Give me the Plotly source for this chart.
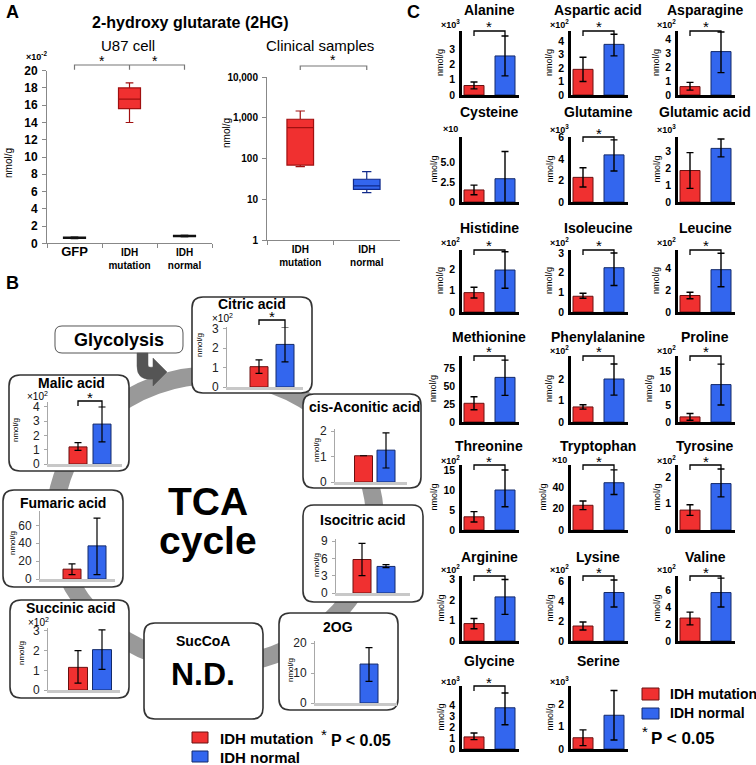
import plotly.graph_objects as go

# ---------------------------------------------------------------- data
groups = ["IDH mutation", "IDH normal"]

# Panel A : U87 cells (x10^-2 nmol/g), box statistics
u87_groups = ["GFP", "IDH mutation", "IDH normal"]
u87_ticktext = ["<span style='font-size:13px'>GFP</span>", "IDH<br>mutation", "IDH<br>normal"]
u87_q1 = [0.58, 15.6, 0.78]
u87_median = [0.65, 16.7, 0.85]
u87_q3 = [0.72, 18.0, 0.92]
u87_low = [0.55, 14.0, 0.75]
u87_high = [0.75, 18.6, 0.95]
u87_ticks = [0, 2, 4, 6, 8, 10, 12, 14, 16, 18, 20]

# Panel A : clinical samples (nmol/g, log scale)
clin_ticktext = ["IDH<br>mutation", "IDH<br>normal"]
clin_q1 = [69, 17.5]
clin_median = [570, 21.4]
clin_q3 = [920, 31]
clin_low = [63, 14.5]
clin_high = [1465, 47.5]
clin_tickvals = [1, 10, 100, 1000, 10000]
clin_ticklabels = ["1", "10", "100", "1,000", "10,000"]

# Panel B : TCA cycle metabolites
tca_names = ["Citric acid", "cis-Aconitic acid", "Isocitric acid", "2OG",
             "Succinic acid", "Fumaric acid", "Malic acid"]
tca_mut = [1.05, 1.03, 5.8, None, 1.15, 11, 1.2]
tca_mut_lo = [0.7, 1.03, 3.0, None, 0.35, 5, 0.95]
tca_mut_hi = [1.4, 1.03, 8.6, None, 2.0, 17, 1.5]
tca_norm = [2.2, 1.25, 4.6, 13, 2.05, 37, 2.8]
tca_norm_lo = [1.3, 0.55, 4.4, 7.2, 1.05, 5, 1.55]
tca_norm_hi = [3.1, 1.93, 4.9, 18.5, 3.05, 68, 4.0]
tca_sig = [True, False, False, False, False, False, True]
tca_mult = ["×10<sup>2</sup>", "", "", "", "×10<sup>2</sup>", "", "×10<sup>2</sup>"]
tca_ticks = [[0, 1, 2, 3], [0, 1, 2], [0, 3, 6, 9], [0, 10, 20],
             [0, 1, 2, 3], [0, 20, 40, 60], [0, 1, 2, 3, 4]]

# Panel C : amino acids
aa_names = ["Alanine", "Aspartic acid", "Asparagine",
            "Cysteine", "Glutamine", "Glutamic acid",
            "Histidine", "Isoleucine", "Leucine",
            "Methionine", "Phenylalanine", "Proline",
            "Threonine", "Tryptophan", "Tyrosine",
            "Arginine", "Lysine", "Valine",
            "Glycine", "Serine"]
aa_mut = [0.62, 1.9, 0.6, 1.5, 2.3, 1.85, 0.9, 0.8, 1.5, 26, 0.7, 1.5,
          3.3, 23, 0.75, 0.85, 1.5, 2.7, 1.1, 0.5]
aa_mut_lo = [0.4, 1.0, 0.35, 0.9, 1.4, 0.8, 0.65, 0.7, 1.2, 17, 0.6, 0.5,
             2.0, 19, 0.55, 0.6, 1.1, 1.9, 0.85, 0.15]
aa_mut_hi = [0.85, 2.8, 0.9, 2.1, 3.2, 2.9, 1.15, 0.95, 1.8, 35, 0.8, 2.5,
             4.6, 27, 0.95, 1.1, 1.9, 3.4, 1.45, 0.85]
aa_norm = [2.55, 3.75, 3.1, 2.9, 4.4, 3.15, 1.95, 2.25, 3.85, 62, 2.0, 11,
           10, 44, 1.75, 2.15, 4.85, 5.7, 3.75, 1.5]
aa_norm_lo = [1.25, 2.9, 1.6, -0.5, 2.9, 2.65, 1.1, 1.35, 2.3, 37, 1.25, 5,
              5.8, 33, 1.25, 1.3, 3.4, 4.0, 2.2, 0.4]
aa_norm_hi = [3.85, 4.5, 4.5, 6.3, 5.8, 3.7, 2.8, 3.0, 5.35, 86, 2.7, 17,
              15, 56, 2.3, 3.0, 6.1, 7.4, 5.1, 2.6]
aa_sig = [True, True, True, False, True, False, True, True, True, True, True, True,
          True, True, True, True, True, True, True, False]
aa_mult = ["×10<sup>3</sup>", "×10<sup>2</sup>", "×10<sup>2</sup>",
           "×10", "×10<sup>3</sup>", "×10<sup>3</sup>",
           "×10<sup>2</sup>", "×10<sup>2</sup>", "×10<sup>2</sup>",
           "", "×10<sup>2</sup>", "×10<sup>2</sup>",
           "×10<sup>2</sup>", "×10", "×10<sup>2</sup>",
           "×10<sup>2</sup>", "×10<sup>2</sup>", "×10<sup>2</sup>",
           "×10<sup>3</sup>", "×10<sup>3</sup>"]
aa_ticks = [[0, 1, 2, 3], [0, 1, 2, 3, 4], [0, 1, 2, 3, 4],
            [0, 2.5, 5.0], [0, 2, 4, 6], [0, 1, 2, 3],
            [0, 1, 2], [0, 1, 2, 3], [0, 2, 4],
            [0, 25, 50, 75], [0, 1, 2], [0, 5, 10, 15],
            [0, 5, 10, 15], [0, 20, 40], [0, 1, 2],
            [0, 1, 2, 3], [0, 2, 4, 6], [0, 2, 4, 6],
            [0, 1, 2, 3, 4], [0, 1, 2]]
aa_ticktext = [None, None, None, ["0", "2.5", "5.0"]] + [None] * 16

# ---------------------------------------------------------------- styling / layout
W, H = 756, 765
FONT = "Liberation Sans, Arial, sans-serif"
RED = "#f03030"
BLUE = "#3366ee"
RED_EDGE = "#6a1010"
BLUE_EDGE = "#142a6a"

fig = go.Figure()
lay = dict(width=W, height=H, margin=dict(l=0, r=0, t=0, b=0, pad=0, autoexpand=False),
           paper_bgcolor="white", plot_bgcolor="rgba(0,0,0,0)",
           showlegend=False, font=dict(family=FONT, color="black"))
shapes = []
annos = []
naxes = [0]


def X(x):
    return x / W


def Y(y):
    return 1 - y / H


def P(x, y):
    return f"{X(x):.5f},{Y(y):.5f}"


def text(x, y, s, size, bold=False, color="black", xanchor="center", yanchor="middle", angle=0):
    if bold:
        s = "<b>" + s + "</b>"
    annos.append(dict(x=X(x), y=Y(y), xref="paper", yref="paper", text=s, showarrow=False,
                      font=dict(size=size, family=FONT, color=color),
                      xanchor=xanchor, yanchor=yanchor, textangle=angle, borderpad=0))


def new_axes(left, right, top, bottom, xaxis, yaxis):
    naxes[0] += 1
    n = naxes[0]
    s = "" if n == 1 else str(n)
    xaxis.update(domain=[X(left), X(right)], anchor="y" + s, automargin=False)
    yaxis.update(domain=[Y(bottom), Y(top)], anchor="x" + s, automargin=False)
    lay["xaxis" + s] = xaxis
    lay["yaxis" + s] = yaxis
    return "x" + s, "y" + s


def hidden_axes(left, right, top, bottom, xaxis, yaxis):
    # invisible axes with the same scale as a chart, extended upward for brackets
    base = dict(visible=False, showgrid=False, zeroline=False, fixedrange=True)
    xaxis.update(base)
    yaxis.update(base)
    return new_axes(left, right, top, bottom, xaxis, yaxis)


def rrect(x0, y0, x1, y1, r):
    return ("M" + P(x0 + r, y0) + " L" + P(x1 - r, y0) + " Q" + P(x1, y0) + " " + P(x1, y0 + r) +
            " L" + P(x1, y1 - r) + " Q" + P(x1, y1) + " " + P(x1 - r, y1) +
            " L" + P(x0 + r, y1) + " Q" + P(x0, y1) + " " + P(x0, y1 - r) +
            " L" + P(x0, y0 + r) + " Q" + P(x0, y0) + " " + P(x0 + r, y0) + " Z")


def bar_chart(vals, lo, hi, ticks, ticktext, sig, g, style):
    left, right, top, y0 = g["left"], g["right"], g["top"], g["y0"]
    c1, c2, bw, ymax = g["c1"], g["c2"], g["bw"], g["ymax"]
    unit = c2 - c1
    xr = [(left - c1) / unit, (right - c1) / unit]
    if style == "C":
        yax = dict(range=[0, ymax], showline=True, linecolor="black", linewidth=2.5, ticks="",
                   tickvals=ticks, ticktext=ticktext,
                   tickfont=dict(size=10.5, family=FONT, color="black", weight="bold"),
                   showgrid=False, zeroline=False, ticklabelstandoff=2)
        xax = dict(type="category", categoryorder="array", categoryarray=groups, range=xr,
                   showline=True, linecolor="black", linewidth=2.5, showticklabels=False,
                   ticks="", showgrid=False, zeroline=False)
        eth = 1.4
    else:
        yax = dict(range=[0, ymax], showline=True, linecolor="#a8a8a8", linewidth=1,
                   ticks="outside", ticklen=3, tickcolor="#a8a8a8",
                   tickvals=ticks, ticktext=ticktext,
                   tickfont=dict(size=12, family=FONT, color="#222"),
                   showgrid=False, zeroline=False, ticklabelstandoff=2)
        xax = dict(type="category", categoryorder="array", categoryarray=groups, range=xr,
                   showline=True, linecolor="#c8c8c8", linewidth=2.5, showticklabels=False,
                   ticks="", showgrid=False, zeroline=False)
        eth = 1.2
    xr_, yr_ = new_axes(left, right, top, y0, xax, yax)
    ea = [None if (v is None or h is None) else h - v for v, h in zip(vals, hi)]
    em = [None if (v is None or l is None) else v - l for v, l in zip(vals, lo)]
    fig.add_trace(go.Bar(x=groups, y=list(vals), width=bw / unit, xaxis=xr_, yaxis=yr_,
                         marker=dict(color=[RED, BLUE], line=dict(color=[RED_EDGE, BLUE_EDGE], width=1)),
                         error_y=dict(type="data", symmetric=False, array=ea, arrayminus=em,
                                      color="black", thickness=eth, width=3.5),
                         cliponaxis=False, hoverinfo="skip"))
    if sig:
        upx = (y0 - top) / ymax
        ext_top = top - 20
        hx, hy = hidden_axes(left, right, ext_top, y0,
                             dict(type="category", categoryorder="array", categoryarray=groups, range=xr),
                             dict(range=[0, (y0 - ext_top) / upx]))
        by = (y0 - g["by"]) / upx
        fig.add_trace(go.Scatter(x=[groups[0], groups[0], groups[1], groups[1]],
                                 y=[by - 5 / upx, by, by, hi[1]], mode="lines",
                                 line=dict(color="black", width=1.3), xaxis=hx, yaxis=hy,
                                 hoverinfo="skip"))
        text((c1 + c2) / 2, g["by"] - 4, "*", 15)


# ---------------------------------------------------------------- Panel A
text(12, 12, "A", 18, bold=True)
text(190, 22, "2-hydroxy glutarate (2HG)", 16, bold=True)
text(128, 45, "U87 cell", 15)
text(320, 45, "Clinical samples", 15)

U87_TOP, U87_BOT = 70.7, 243.3
xa, ya = new_axes(47, 212, U87_TOP, U87_BOT,
                  dict(type="category", categoryorder="array", categoryarray=u87_groups,
                       range=[-0.5, 2.5], showline=True, linecolor="#888", linewidth=1,
                       ticks="outside", tickson="boundaries", ticklen=4, tickcolor="#888",
                       tickvals=u87_groups, ticktext=u87_ticktext,
                       tickfont=dict(size=10, family=FONT, weight="bold"), showgrid=False),
                  dict(range=[0, 20], tickvals=u87_ticks, showline=True, linecolor="#888",
                       linewidth=1, ticks="outside", ticklen=4, tickcolor="#888",
                       tickfont=dict(size=12, family=FONT, weight="bold"),
                       showgrid=False, zeroline=False, ticklabelstandoff=2))
u87_fill = ["#222222", RED, BLUE]
u87_line = ["#111111", "#a01010", "#111111"]
for i, gname in enumerate(u87_groups):
    fig.add_trace(go.Box(x=[gname], q1=[u87_q1[i]], median=[u87_median[i]], q3=[u87_q3[i]],
                         lowerfence=[u87_low[i]], upperfence=[u87_high[i]], width=0.4,
                         whiskerwidth=0.35, fillcolor=u87_fill[i],
                         line=dict(color=u87_line[i], width=1.2), boxpoints=False,
                         xaxis=xa, yaxis=ya, hoverinfo="skip"))
ha, hb = hidden_axes(47, 212, 50, U87_BOT,
                     dict(type="category", categoryorder="array", categoryarray=u87_groups,
                          range=[-0.5, 2.5]),
                     dict(range=[0, 20 * (U87_BOT - 50) / (U87_BOT - U87_TOP)]))
fig.add_trace(go.Scatter(x=[u87_groups[0], u87_groups[0], u87_groups[1], u87_groups[1],
                            u87_groups[1], u87_groups[2], u87_groups[2]],
                         y=[20.1, 20.66, 20.66, 20.1, 20.66, 20.66, 20.1], mode="lines",
                         line=dict(color="#777", width=1.2), xaxis=ha, yaxis=hb,
                         hoverinfo="skip"))
text(102, 61, "*", 14)
text(155, 61, "*", 14)
text(36, 56, "×10<sup>-2</sup>", 9, bold=True)
text(8, 163, "nmol/g", 10, angle=-90)

CL_TOP, CL_BOT = 77, 240
xb, yb = new_axes(267, 400, CL_TOP, CL_BOT,
                  dict(type="category", categoryorder="array", categoryarray=groups,
                       range=[-0.5, 1.5], showline=True, linecolor="#888", linewidth=1,
                       ticks="outside", tickson="boundaries", ticklen=4, tickcolor="#888",
                       tickvals=groups, ticktext=clin_ticktext,
                       tickfont=dict(size=10, family=FONT, weight="bold"), showgrid=False),
                  dict(type="log", range=[0, 4], tickvals=clin_tickvals, ticktext=clin_ticklabels,
                       showline=True, linecolor="#888", linewidth=1, ticks="outside", ticklen=4,
                       tickcolor="#888", tickfont=dict(size=10, family=FONT, weight="bold"),
                       showgrid=False, zeroline=False, ticklabelstandoff=2))
clin_fill = [RED, BLUE]
clin_line = ["#a01010", "#102a8a"]
for i, gname in enumerate(groups):
    fig.add_trace(go.Box(x=[gname], q1=[clin_q1[i]], median=[clin_median[i]], q3=[clin_q3[i]],
                         lowerfence=[clin_low[i]], upperfence=[clin_high[i]], width=0.4,
                         whiskerwidth=0.35, fillcolor=clin_fill[i],
                         line=dict(color=clin_line[i], width=1.2), boxpoints=False,
                         xaxis=xb, yaxis=yb, hoverinfo="skip"))
hc, hd = hidden_axes(267, 400, 50, CL_BOT,
                     dict(type="category", categoryorder="array", categoryarray=groups,
                          range=[-0.5, 1.5]),
                     dict(type="log", range=[0, 4 * (CL_BOT - 50) / (CL_BOT - CL_TOP)]))
fig.add_trace(go.Scatter(x=[groups[0], groups[0], groups[1], groups[1]],
                         y=[10 ** 4.17, 10 ** 4.27, 10 ** 4.27, 10 ** 4.17], mode="lines",
                         line=dict(color="#777", width=1.2), xaxis=hc, yaxis=hd,
                         hoverinfo="skip"))
text(333, 60, "*", 14)
text(226, 133, "nmol/g", 10, angle=-90)

# ---------------------------------------------------------------- Panel B
text(12, 283, "B", 18, bold=True)
shapes.append(dict(type="circle", xref="paper", yref="paper", x0=X(55), x1=X(375),
                   y0=Y(665), y1=Y(375), line=dict(color="#999999", width=18), layer="below"))
tca_geom = [
    dict(left=227, right=303, top=327, y0=387, c1=259, c2=285, bw=18, ymax=3.1, by=320,
         title=(252, 304), mult=(222, 318), nmol=(200, 345), box=(192, 297, 312, 393)),
    dict(left=335, right=407, top=429, y0=482, c1=363.5, c2=386, bw=18, ymax=2.08, by=0,
         title=(364, 407), mult=None, nmol=(316, 450), box=(303, 394, 421, 488)),
    dict(left=336, right=410, top=539, y0=593, c1=362, c2=386, bw=18, ymax=9.35, by=0,
         title=(363, 520), mult=None, nmol=(316, 565), box=(303, 505, 423, 602)),
    dict(left=315, right=397, top=641, y0=703, c1=345, c2=369, bw=18, ymax=20.7, by=0,
         title=(338, 627), mult=None, nmol=(290, 670), box=(279, 613, 398, 710)),
    dict(left=48, right=120, top=628, y0=690, c1=78, c2=102, bw=19, ymax=3.15, by=0,
         title=(70, 608), mult=(38, 622), nmol=(21, 653), box=(10, 600, 129, 698)),
    dict(left=40, right=115, top=511, y0=579, c1=72, c2=97, bw=18, ymax=76, by=0,
         title=(63, 503), mult=None, nmol=(12, 543), box=(3, 490, 123, 587)),
    dict(left=48, right=122, top=402, y0=464, c1=78, c2=102, bw=18, ymax=4.35, by=401,
         title=(71, 383), mult=(37, 396), nmol=(15, 430), box=(9, 375, 129, 471)),
]
for g in tca_geom:
    x0, y0, x1, y1 = g["box"]
    shapes.append(dict(type="path", xref="paper", yref="paper", path=rrect(x0, y0, x1, y1, 11),
                       fillcolor="white", line=dict(color="#333", width=1.6), layer="below"))
shapes.append(dict(type="path", xref="paper", yref="paper", path=rrect(144, 623, 263, 719, 11),
                   fillcolor="white", line=dict(color="#333", width=1.6), layer="below"))
shapes.append(dict(type="path", xref="paper", yref="paper", path=rrect(55, 326, 183, 353, 7),
                   fillcolor="white", line=dict(color="#555", width=1), layer="below"))
arrow = ("M" + P(137, 353) + " L" + P(148, 353) + " L" + P(148, 365) + " Q" + P(148, 368) + " " +
         P(153, 367) + " L" + P(153, 358) + " L" + P(167, 372) + " L" + P(153, 386) +
         " L" + P(153, 379) + " Q" + P(137, 381) + " " + P(137, 366) + " Z")
shapes.append(dict(type="path", xref="paper", yref="paper", path=arrow,
                   fillcolor="#555555", line=dict(color="#555555", width=0.5), layer="below"))

for i, g in enumerate(tca_geom):
    bar_chart([tca_mut[i], tca_norm[i]], [tca_mut_lo[i], tca_norm_lo[i]],
              [tca_mut_hi[i], tca_norm_hi[i]], tca_ticks[i], None, tca_sig[i], g, "B")
    text(g["title"][0], g["title"][1], tca_names[i], 14, bold=True)
    if tca_mult[i]:
        text(g["mult"][0], g["mult"][1], tca_mult[i], 10)
    text(g["nmol"][0], g["nmol"][1], "nmol/g", 8, angle=-90)

text(119, 340, "Glycolysis", 18, bold=True)
text(208, 501, "TCA", 39, bold=True)
text(208, 540, "cycle", 39, bold=True)
text(203, 641, "SucCoA", 14, bold=True)
text(203, 674, "N.D.", 32, bold=True)

shapes.append(dict(type="rect", xref="paper", yref="paper", x0=X(192), x1=X(208), y0=Y(743), y1=Y(732),
                   fillcolor=RED, line=dict(color=RED_EDGE, width=1)))
shapes.append(dict(type="rect", xref="paper", yref="paper", x0=X(192), x1=X(208), y0=Y(762), y1=Y(751),
                   fillcolor=BLUE, line=dict(color=BLUE_EDGE, width=1)))
text(219, 738, groups[0], 15, bold=True, xanchor="left")
text(219, 757, groups[1], 15, bold=True, xanchor="left")
text(324, 734, "*", 15)
text(330, 740, "P < 0.05", 16, bold=True, xanchor="left")

# ---------------------------------------------------------------- Panel C
text(413, 12, "C", 18, bold=True)
col_left = [462, 571, 678]
row_y0 = [95, 202, 312, 422, 530, 641, 749]
row_top = [31, 137, 250, 356, 465, 576, 686]
row_title = [10, 112, 228, 337, 446, 557, 661]
row_mult = [24, 129, 242, 350, 460, 569, 681]
aa_ymax = [4.18, 4.74, 4.57, 8.1, 6.07, 3.82, 2.88, 3.15, 5.64, 91.7, 3.07, 19.4,
           16.25, 60.5, 2.45, 3.17, 6.5, 7.65, 5.73, 2.8]
for i in range(len(aa_names)):
    r, c = divmod(i, 3)
    L = col_left[c]
    g = dict(left=L, right=L + 57, top=row_top[r], y0=row_y0[r], c1=L + 12, c2=L + 43,
             bw=20, ymax=aa_ymax[i], by=row_top[r])
    bar_chart([aa_mut[i], aa_norm[i]], [aa_mut_lo[i], aa_norm_lo[i]],
              [aa_mut_hi[i], aa_norm_hi[i]], aa_ticks[i], aa_ticktext[i], aa_sig[i], g, "C")
    text(L + 27, row_title[r], aa_names[i], 14, bold=True)
    if aa_mult[i]:
        text(L - 12, row_mult[r], aa_mult[i], 9, bold=True)
    wide = max(len(str(t)) for t in (aa_ticktext[i] or aa_ticks[i])) > 1
    text(L - (29 if wide else 22), row_y0[r] - 0.5 * (row_y0[r] - row_top[r]), "nmol/g", 9, angle=-90)

shapes.append(dict(type="rect", xref="paper", yref="paper", x0=X(642), x1=X(659), y0=Y(700), y1=Y(688),
                   fillcolor=RED, line=dict(color=RED_EDGE, width=1)))
shapes.append(dict(type="rect", xref="paper", yref="paper", x0=X(642), x1=X(659), y0=Y(719), y1=Y(708),
                   fillcolor=BLUE, line=dict(color=BLUE_EDGE, width=1)))
text(669, 694, groups[0], 14, bold=True, xanchor="left")
text(669, 713, groups[1], 14, bold=True, xanchor="left")
text(645, 731, "*", 15)
text(650, 738, "P < 0.05", 17, bold=True, xanchor="left")

lay["shapes"] = shapes
lay["annotations"] = annos
fig.update_layout(**lay)
fig.write_html("out.html", config={"displayModeBar": False},
               post_script="document.body.style.margin='0';document.body.style.overflow='hidden';")
